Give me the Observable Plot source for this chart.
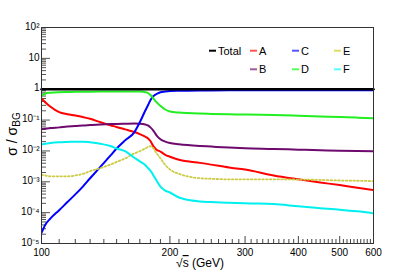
<!DOCTYPE html>
<html>
<head>
<meta charset="utf-8">
<script src="https://cdn.jsdelivr.net/npm/d3@7"></script>
<script src="https://cdn.jsdelivr.net/npm/@observablehq/plot@0.6"></script>
<style>
  html, body { margin: 0; padding: 0; background: #fff; }
  #chart { position: relative; width: 415px; height: 270px; }
</style>
</head>
<body>
<div id="chart"></div>
<script>
// ---- data ----
const sqrtS = [100, 102, 105, 110, 115, 120, 125, 130, 137.5, 145, 150, 157, 165, 170, 175, 178, 180, 183, 186, 190, 195, 200, 210, 220, 235, 250, 275, 300, 350, 400, 450, 500, 550, 600];
const total = [1, 1, 1, 1, 1, 1, 1, 1, 1, 1, 1, 1, 1, 1, 1, 1, 1, 1, 1, 1, 1, 1, 1, 1, 1, 1, 1, 1, 1, 1, 1, 1, 1, 1];
const seriesA = [0.5, 0.38, 0.27, 0.18, 0.155, 0.14, 0.125, 0.11, 0.085, 0.068, 0.06, 0.05, 0.041, 0.035, 0.029, 0.025, 0.021, 0.014, 0.011, 0.0095, 0.0075, 0.0065, 0.0052, 0.0046, 0.0041, 0.0036, 0.0029, 0.0025, 0.0016, 0.0012, 0.00095, 0.00078, 0.00064, 0.00054];
const seriesB = [0.05, 0.052, 0.055, 0.058, 0.062, 0.064, 0.067, 0.069, 0.072, 0.074, 0.075, 0.076, 0.077, 0.076, 0.072, 0.066, 0.058, 0.045, 0.032, 0.024, 0.02, 0.018, 0.0165, 0.0155, 0.0145, 0.0138, 0.0128, 0.0122, 0.0116, 0.011, 0.0105, 0.0101, 0.0099, 0.0097];
const seriesC = [2.2e-5, 4e-5, 6.5e-5, 1.2e-4, 2.2e-4, 3.9e-4, 7e-4, 1.3e-3, 3.1e-3, 7e-3, 0.012, 0.022, 0.04, 0.085, 0.2, 0.32, 0.44, 0.6, 0.7, 0.8, 0.84, 0.87, 0.89, 0.9, 0.91, 0.915, 0.92, 0.92, 0.925, 0.93, 0.93, 0.93, 0.93, 0.93];
const seriesD = [0.6, 0.72, 0.77, 0.8, 0.81, 0.82, 0.83, 0.835, 0.84, 0.845, 0.85, 0.85, 0.85, 0.84, 0.8, 0.74, 0.65, 0.5, 0.38, 0.29, 0.22, 0.19, 0.175, 0.168, 0.162, 0.158, 0.154, 0.151, 0.145, 0.138, 0.131, 0.125, 0.12, 0.115];
const seriesE = [0.0017, 0.0016, 0.0015, 0.0015, 0.0015, 0.0016, 0.0018, 0.0022, 0.0028, 0.0036, 0.0044, 0.0057, 0.0083, 0.0098, 0.012, 0.0135, 0.0142, 0.012, 0.0085, 0.0058, 0.0035, 0.0025, 0.0018, 0.0015, 0.0013, 0.00125, 0.0012, 0.0012, 0.0012, 0.00118, 0.00115, 0.0011, 0.00108, 0.00105];
const seriesF = [0.016, 0.017, 0.018, 0.019, 0.0195, 0.02, 0.02, 0.019, 0.017, 0.0145, 0.012, 0.0098, 0.006, 0.0046, 0.0035, 0.0027, 0.0023, 0.0016, 0.0011, 0.0007, 0.00052, 0.00045, 0.00031, 0.00026, 0.00023, 0.00022, 0.00021, 0.0002, 0.00019, 0.00016, 0.00014, 0.000125, 0.00011, 0.000095];

const seriesNames = ["Total", "A", "B", "C", "D", "E", "F"];
const seriesColors = ["#000000", "#ff0000", "#6e0a6e", "#0000ff", "#22ee22", "#cccc44", "#00f0f0"];
const legendColors = ["#000000", "#ff5555", "#a05aa0", "#5555ff", "#55ff55", "#dddd66", "#55ffff"];

const yMajor = [1e-5, 1e-4, 1e-3, 1e-2, 1e-1, 1, 10, 100];
const yTickLabels = ["10\u207B\u2075", "10\u207B\u2074", "10\u207B\u00B3", "10\u207B\u00B2", "10\u207B\u00B9", "1", "10", "10\u00B2"];
const xMajor = [100, 200, 300, 400, 500, 600];
const xTickLabels = ["100", "200", "300", "400", "500", "600"];

// ---- build table ----
const allSeries = [total, seriesA, seriesB, seriesC, seriesD, seriesE, seriesF];
const rows = [];
seriesNames.forEach((name, k) => {
  sqrtS.forEach((s, i) => rows.push({s, v: allSeries[k][i], name}));
});

const yMinor = [];
for (let e = -5; e < 2; e++) for (let m = 2; m <= 9; m++) yMinor.push(m * Math.pow(10, e));
const xMinor = [];
for (let v = 110; v < 600; v += 10) if (v % 100 !== 0) xMinor.push(v);

const W = 415, H = 270, mL = 41, mR = 42, mT = 27, mB = 27;
const pw = W - mL - mR, ph = H - mT - mB;
const yLab = new Map(yMajor.map((d, i) => [d, yTickLabels[i]]));
const xLab = new Map(xMajor.map((d, i) => [d, xTickLabels[i]]));

const lineMarks = seriesNames.slice(1).map((name, k) =>
  Plot.line(rows.filter(r => r.name === name), {
    x: "s", y: "v", stroke: seriesColors[k + 1],
    strokeWidth: name === "E" ? 1.8 : 2,
    curve: "monotone-x", clip: true,
    strokeDasharray: name === "E" ? "1.6,2.2" : null
  })
);

const chart = Plot.plot({
  width: W, height: H,
  marginLeft: mL, marginRight: mR, marginTop: mT, marginBottom: mB,
  x: {type: "log", domain: [100, 600]},
  y: {type: "log", domain: [1e-5, 100]},
  style: {fontFamily: "'Liberation Sans', Arial, sans-serif", fontSize: "10px", background: "#fff", color: "#000"},
  marks: [
    Plot.tickY(yMajor, {y: d => d, insetRight: pw - 9, stroke: "#555"}),
    Plot.tickY(yMinor, {y: d => d, insetRight: pw - 5, stroke: "#555"}),
    Plot.tickX(xMajor, {x: d => d, insetTop: ph - 7, stroke: "#444"}),
    Plot.tickX(xMinor, {x: d => d, insetTop: ph - 4, stroke: "#444"}),
    Plot.axisY(yMajor, {tickSize: 0, tickPadding: 2, dy: -1, tickFormat: d => yLab.get(d), label: null, fontSize: 10}),
    Plot.axisX(xMajor, {tickSize: 0, tickPadding: 5, tickFormat: d => xLab.get(d), label: null, fontSize: 10}),
    ...lineMarks,
    Plot.line(rows.filter(r => r.name === "Total"), {x: "s", y: "v", stroke: "#000", strokeWidth: 2.5}),
    Plot.frame({stroke: "#333"})
  ]
});

document.getElementById("chart").appendChild(chart);

// ---- titles and legend ----
const svg = d3.select(chart);
const font = "'Liberation Sans', Arial, sans-serif";

const yl = svg.append("text")
  .attr("transform", "translate(17,134) rotate(-90)")
  .attr("text-anchor", "middle")
  .style("font-family", font).style("font-size", "14px").attr("fill", "#000");
yl.append("tspan").text("\u03C3 / \u03C3");
yl.append("tspan").attr("baseline-shift", "-25%").style("font-size", "10px").text("BG");

const xl = svg.append("text")
  .attr("x", 200).attr("y", 267)
  .attr("text-anchor", "middle")
  .style("font-family", font).style("font-size", "12px").attr("fill", "#000");
xl.append("tspan").text("\u221A");
xl.append("tspan").style("text-decoration", "overline").text("s");
xl.append("tspan").text(" (GeV)");

const legendPos = [
  {name: "Total", x: 209, y: 50.7},
  {name: "A", x: 250, y: 50.7},
  {name: "C", x: 292, y: 50.7},
  {name: "E", x: 334, y: 50.7},
  {name: "B", x: 250, y: 69.3},
  {name: "D", x: 292, y: 69.3},
  {name: "F", x: 334, y: 69.3}
];
const lg = svg.append("g");
legendPos.forEach(p => {
  const c = legendColors[seriesNames.indexOf(p.name)];
  lg.append("line").attr("x1", p.x).attr("x2", p.x + 7).attr("y1", p.y).attr("y2", p.y)
    .attr("stroke", c).attr("stroke-width", 2);
  lg.append("text").attr("x", p.x + 9).attr("y", p.y).attr("dy", "0.35em")
    .attr("text-anchor", "start")
    .style("font-family", font).style("font-size", "11px").attr("fill", "#000").text(p.name);
});
</script>
</body>
</html>
